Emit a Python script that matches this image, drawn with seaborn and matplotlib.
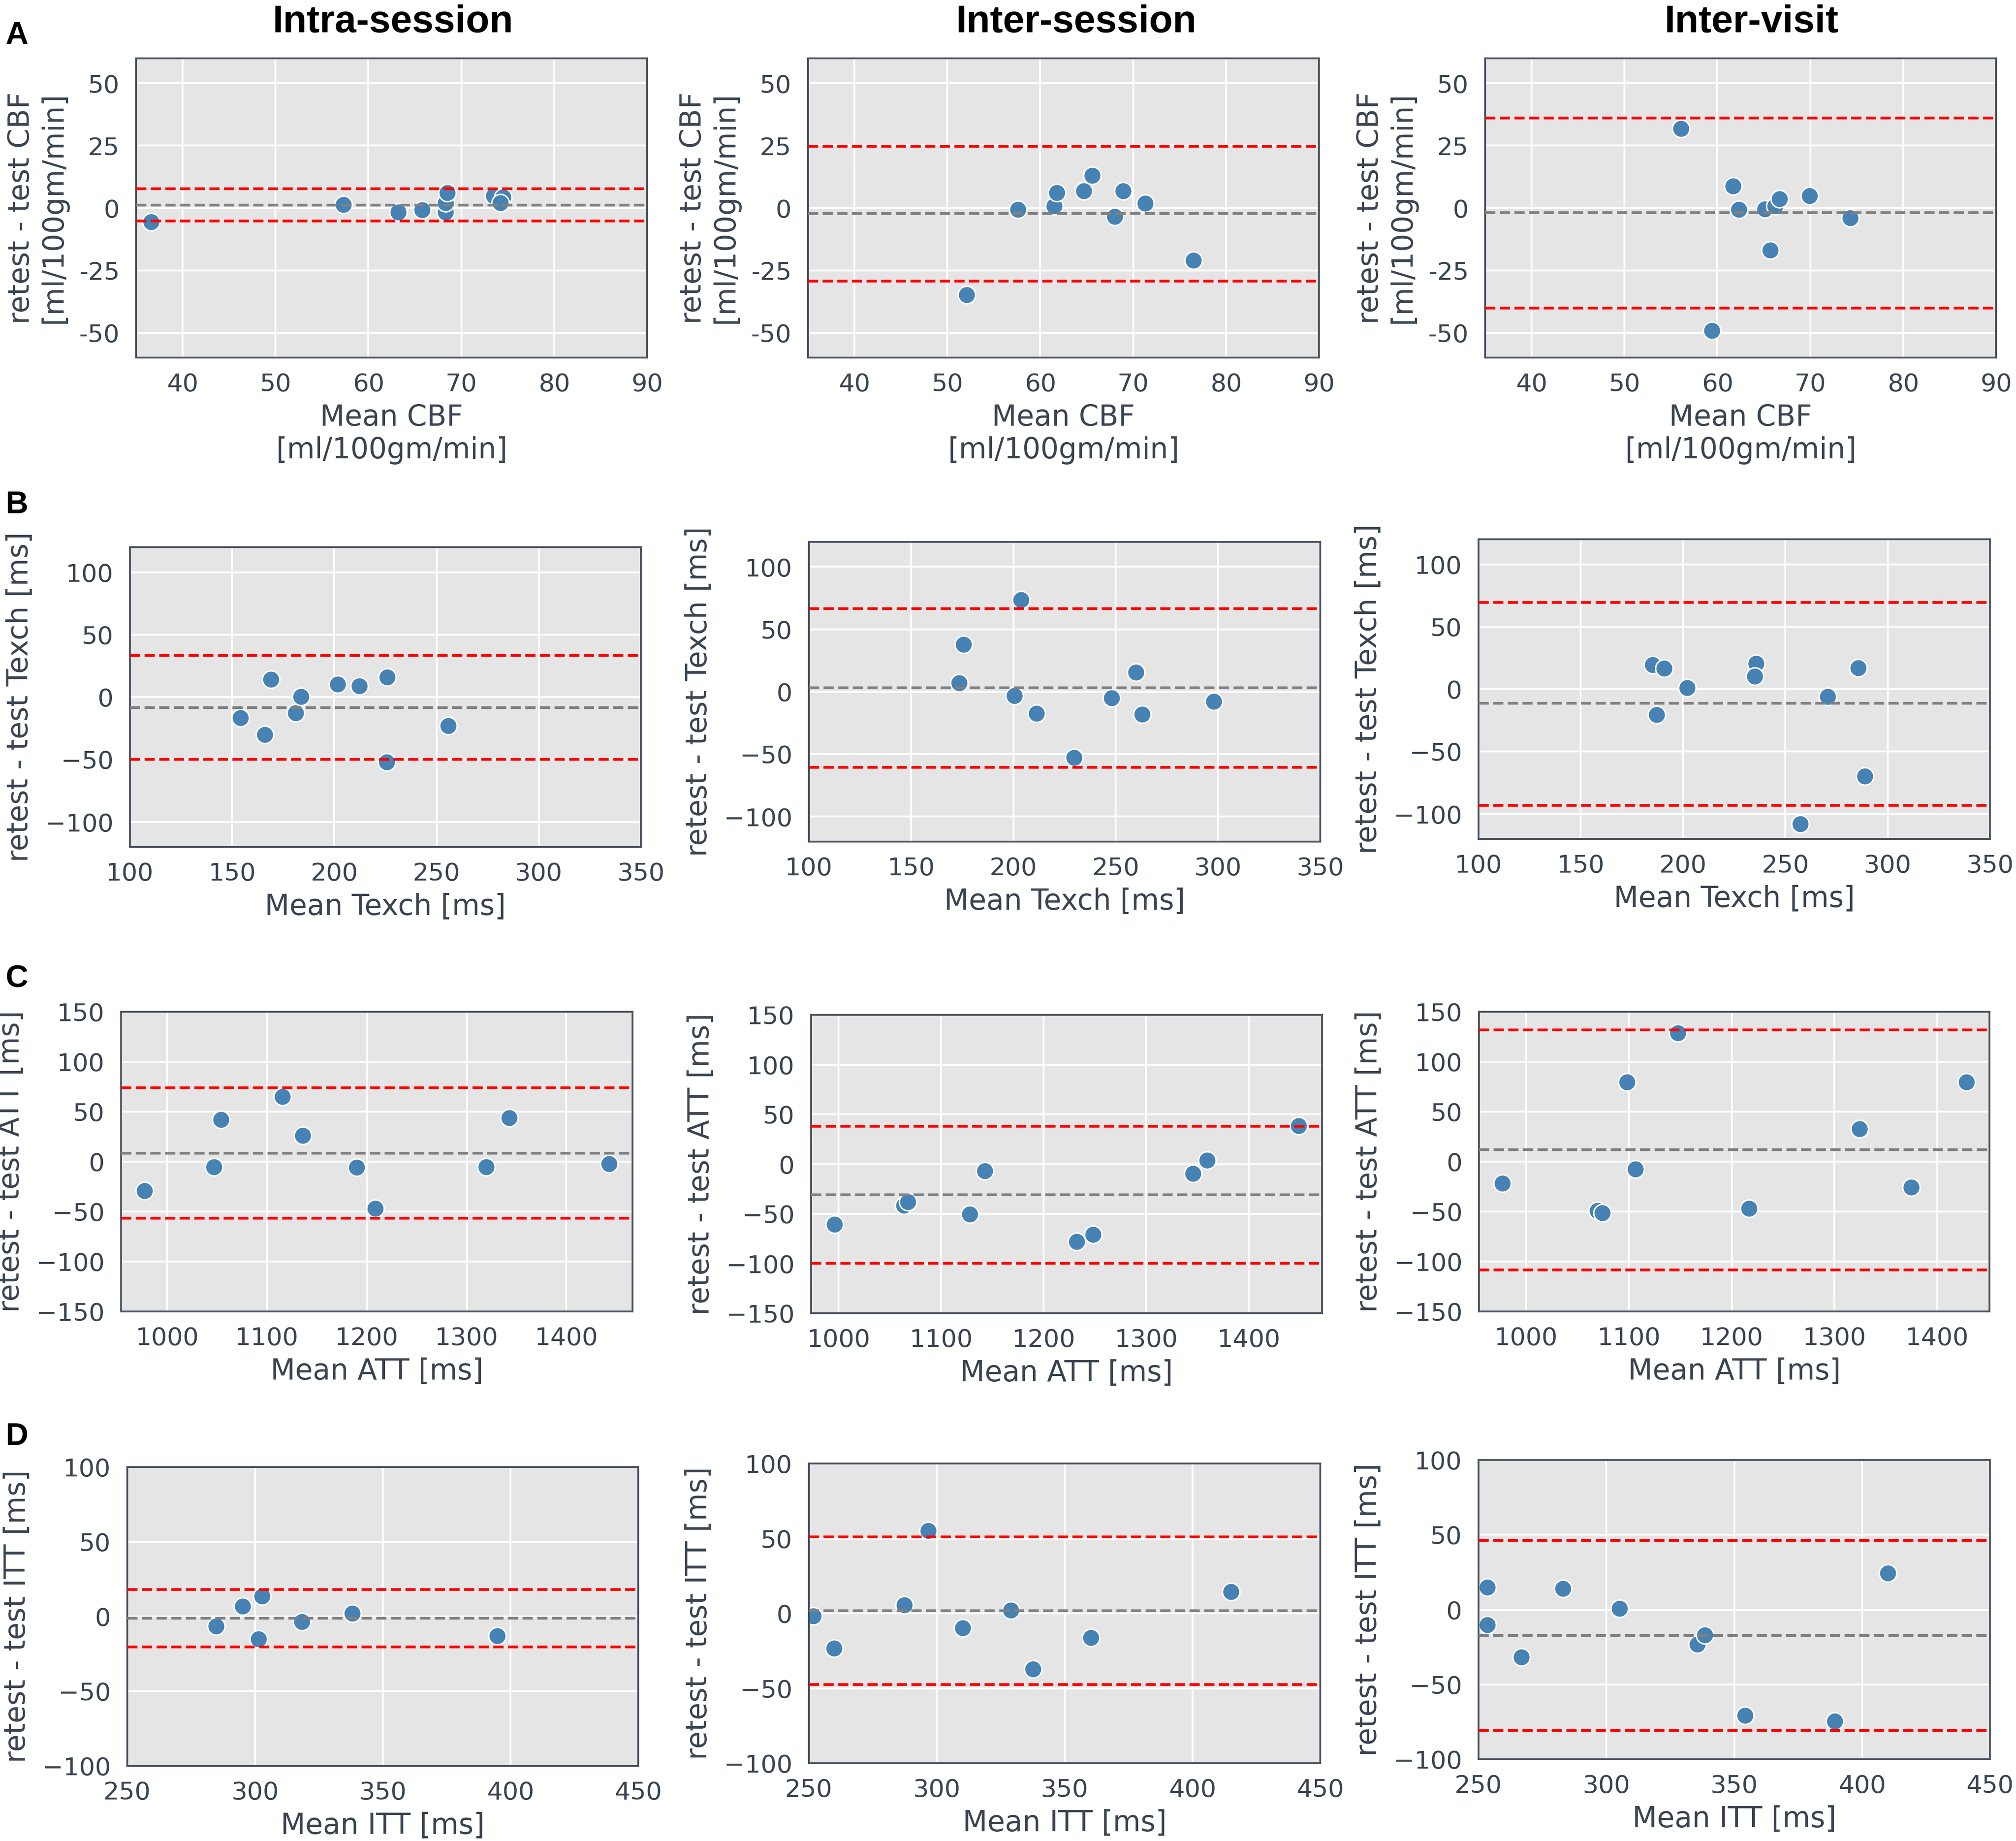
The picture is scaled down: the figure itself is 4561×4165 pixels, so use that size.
import seaborn as sns
import matplotlib.pyplot as plt

# Bland-Altman data: x = mean, y = retest - test
# lines = (mean difference, lower limit, upper limit)

# A: CBF [ml/100gm/min]
cbf_intra_x = [36.6, 57.3, 63.2, 65.8, 68.3, 68.3, 68.5, 73.5, 74.5, 74.2]
cbf_intra_y = [-5.5, 1.4, -1.6, -0.8, -1.6, 2.0, 6.2, 4.8, 4.4, 2.0]
cbf_intra_lines = [1.2, -5.3, 7.7]
cbf_inter_x = [52.1, 57.6, 61.5, 61.8, 64.7, 65.6, 68.0, 68.9, 71.3, 76.5]
cbf_inter_y = [-34.8, -0.7, 0.8, 6.2, 6.8, 13.1, -3.4, 6.8, 1.8, -21.0]
cbf_inter_lines = [-2.3, -29.3, 24.8]
cbf_visit_x = [56.1, 61.7, 62.3, 65.1, 66.2, 66.7, 69.9, 74.3, 65.7, 59.4]
cbf_visit_y = [31.8, 8.8, -0.6, -0.4, 0.8, 3.7, 4.9, -4.0, -16.9, -49.1]
cbf_visit_lines = [-1.9, -40.2, 36.1]

# B: Texch [ms]
texch_intra_x = [154.0, 166.0, 168.9, 181.0, 183.8, 201.6, 212.3, 225.9, 225.7, 255.8]
texch_intra_y = [-16.7, -30.2, 14.0, -12.9, 0.5, 10.4, 8.8, 16.0, -51.9, -23.0]
texch_intra_lines = [-8.6, -49.9, 33.2]
texch_inter_x = [175.6, 173.5, 203.7, 200.5, 211.2, 229.6, 248.1, 259.8, 262.9, 297.9]
texch_inter_y = [38.0, 7.0, 73.5, -3.2, -17.4, -52.9, -4.8, 15.4, -18.1, -7.9]
texch_inter_lines = [3.2, -60.4, 66.7]
texch_visit_x = [185.1, 190.8, 187.0, 201.9, 235.6, 235.0, 257.4, 270.6, 285.7, 288.9]
texch_visit_y = [19.5, 16.5, -20.6, 1.1, 20.6, 10.2, -108.1, -6.1, 17.0, -69.7]
texch_visit_lines = [-11.5, -93.0, 69.5]

# C: ATT [ms]
att_intra_x = [977.2, 1046.9, 1054.2, 1115.5, 1135.9, 1190.1, 1208.6, 1319.6, 1342.8, 1443.0]
att_intra_y = [-29.1, -5.1, 42.1, 65.2, 26.2, -5.9, -47.1, -5.1, 44.0, -2.3]
att_intra_lines = [8.5, -56.7, 73.7]
att_inter_x = [995.8, 1063.5, 1067.6, 1127.8, 1142.4, 1232.2, 1248.4, 1345.7, 1359.5, 1448.9]
att_inter_y = [-60.5, -41.5, -37.8, -50.6, -6.7, -78.0, -71.0, -9.5, 3.8, 38.4]
att_inter_lines = [-30.7, -99.9, 37.8]
att_visit_x = [976.7, 1069.6, 1074.2, 1098.3, 1106.3, 1147.5, 1216.7, 1324.6, 1374.6, 1428.3]
att_visit_y = [-21.6, -49.3, -51.2, 79.5, -7.5, 128.8, -47.0, 32.9, -25.8, 79.5]
att_visit_lines = [12.0, -108.3, 131.9]

# D: ITT [ms]
itt_intra_x = [284.7, 295.1, 302.7, 301.3, 318.3, 338.1, 394.8]
itt_intra_y = [-6.5, 6.9, 13.6, -15.1, -3.5, 2.0, -12.9]
itt_intra_lines = [-1.2, -20.5, 18.1]
itt_inter_x = [251.8, 259.9, 287.4, 296.6, 310.2, 329.0, 337.7, 360.3, 415.1]
itt_inter_y = [-1.7, -23.4, 5.6, 55.2, -9.7, 2.2, -37.1, -16.3, 14.6]
itt_inter_lines = [1.9, -47.6, 51.1]
itt_visit_x = [253.4, 253.5, 266.8, 283.0, 305.2, 335.5, 338.5, 354.3, 389.3, 410.1]
itt_visit_y = [15.0, -10.1, -31.7, 13.9, 0.8, -23.1, -17.1, -70.9, -74.5, 24.4]
itt_visit_lines = [-17.3, -80.7, 46.3]

col_titles = ["Intra-session", "Inter-session", "Inter-visit"]
row_letters = ["A", "B", "C", "D"]

x_labels = ["Mean CBF\n[ml/100gm/min]", "Mean Texch [ms]", "Mean ATT [ms]", "Mean ITT [ms]"]
y_labels = ["retest - test CBF\n[ml/100gm/min]", "retest - test Texch [ms]",
            "retest - test ATT [ms]", "retest - test ITT [ms]"]

x_ticks = [[40, 50, 60, 70, 80, 90], [100, 150, 200, 250, 300, 350],
           [1000, 1100, 1200, 1300, 1400], [250, 300, 350, 400, 450]]
y_ticks = [[-50, -25, 0, 25, 50], [-100, -50, 0, 50, 100],
           [-150, -100, -50, 0, 50, 100, 150], [-100, -50, 0, 50, 100]]
a_ytick_labels = ["-50", "-25", "0", "25", "50"]

x_limits = [(35, 90), (100, 350), None, (250, 450)]
y_limits = [(-60, 60), (-120, 120), (-150, 150), (-100, 100)]

panels = [
    [(cbf_intra_x, cbf_intra_y, cbf_intra_lines),
     (cbf_inter_x, cbf_inter_y, cbf_inter_lines),
     (cbf_visit_x, cbf_visit_y, cbf_visit_lines)],
    [(texch_intra_x, texch_intra_y, texch_intra_lines),
     (texch_inter_x, texch_inter_y, texch_inter_lines),
     (texch_visit_x, texch_visit_y, texch_visit_lines)],
    [(att_intra_x, att_intra_y, att_intra_lines),
     (att_inter_x, att_inter_y, att_inter_lines),
     (att_visit_x, att_visit_y, att_visit_lines)],
    [(itt_intra_x, itt_intra_y, itt_intra_lines),
     (itt_inter_x, itt_inter_y, itt_inter_lines),
     (itt_visit_x, itt_visit_y, itt_visit_lines)],
]

# axes boxes in pixels: left, top, right, bottom
W, H = 4561, 4165
boxes = [
    [(308, 132, 1464, 809), (1828, 132, 2984, 809), (3360, 132, 4516, 809)],
    [(294, 1238, 1450, 1916), (1830, 1226, 2987, 1904), (3345, 1220, 4502, 1898)],
    [(274, 2289, 1431, 2967), (1835, 2296, 2991, 2971), (3346, 2289, 4501, 2967)],
    [(288, 3319, 1444, 3995), (1830, 3311, 2987, 3989), (3345, 3303, 4502, 3980)],
]
title_x = [889, 2434, 3962]
letter_top = [48, 1110, 2183, 3218]

TEXT = "#3a4350"
sns.set_theme(style="darkgrid", rc={
    "axes.facecolor": "#e5e5e5",
    "axes.edgecolor": "#4a5361",
    "axes.linewidth": 1.0,
    "grid.color": "white",
    "grid.linewidth": 1.0,
    "text.color": TEXT,
    "axes.labelcolor": TEXT,
    "xtick.color": TEXT,
    "ytick.color": TEXT,
})
plt.rcParams['font.family'] = ['DejaVu Sans']

fig = plt.figure(figsize=(W / 300, H / 300), dpi=300)

for r in range(4):
    for c in range(3):
        l, t, rr, b = boxes[r][c]
        ax = fig.add_axes([l / W, 1 - b / H, (rr - l) / W, (b - t) / H])
        xs, ys, (mean_d, low, up) = panels[r][c]
        sns.scatterplot(x=xs, y=ys, ax=ax, s=90, color="steelblue",
                        edgecolor="white", linewidth=0.8, zorder=2)
        ax.axhline(mean_d, color="gray", linestyle="--", linewidth=1.5, zorder=3)
        ax.axhline(low, color="red", linestyle="--", linewidth=1.5, zorder=3)
        ax.axhline(up, color="red", linestyle="--", linewidth=1.5, zorder=3)

        ax.set_xticks(x_ticks[r])
        ax.set_yticks(y_ticks[r])
        if r == 0:
            ax.set_yticklabels(a_ytick_labels)
        if x_limits[r] is not None:
            ax.set_xlim(*x_limits[r])
        ax.set_ylim(*y_limits[r])
        ax.tick_params(axis="both", length=0, labelsize=13.5)
        ax.tick_params(axis="y", pad=9)
        ax.tick_params(axis="x", pad=8)
        ax.set_xlabel(x_labels[r], fontsize=15.5, labelpad=4)
        ax.set_ylabel(y_labels[r], fontsize=15.5, labelpad=6)
        for sp in ax.spines.values():
            sp.set_visible(True)
            sp.set_color("#4a5361")

for c, title in enumerate(col_titles):
    fig.text(title_x[c] / W, 1 - 73 / H, title, ha="center", va="baseline",
             fontsize=21, fontweight="bold", color="black",
             family=["Liberation Sans", "DejaVu Sans"])

for r, letter in enumerate(row_letters):
    fig.text(12 / W, 1 - letter_top[r] / H, letter, ha="left", va="top",
             fontsize=17, fontweight="bold", color="black",
             family=["Liberation Sans", "DejaVu Sans"])

fig.savefig("out.png", dpi=300)
